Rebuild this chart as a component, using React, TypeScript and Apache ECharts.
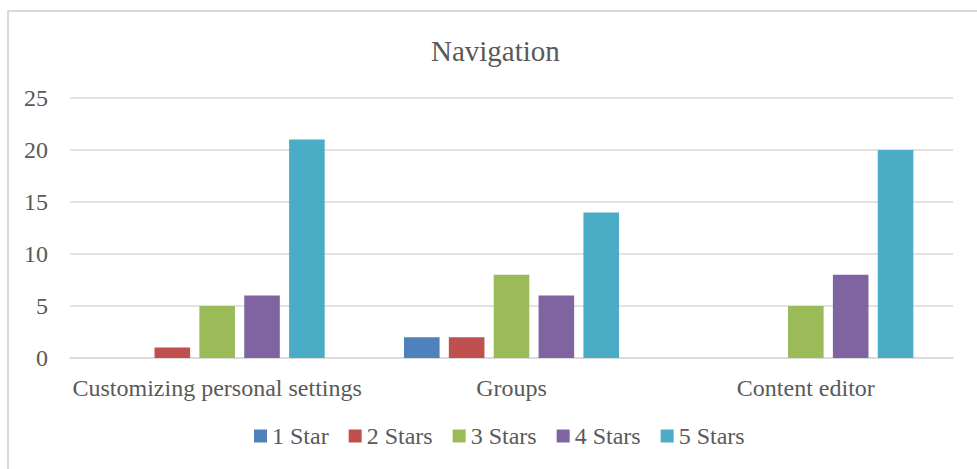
import React, { useEffect, useRef } from "react";
import * as echarts from "echarts";

const categories = ["Customizing personal settings", "Groups", "Content editor"];
const seriesNames = ["1 Star", "2 Stars", "3 Stars", "4 Stars", "5 Stars"];
const oneStar = [0, 2, 0];
const twoStars = [1, 2, 0];
const threeStars = [5, 8, 5];
const fourStars = [6, 6, 8];
const fiveStars = [21, 14, 20];
const colors = ["#4F81BD", "#C0504D", "#9BBB59", "#8064A2", "#4BACC6"];

const FONT = "Liberation Serif";
const TEXT = "#595959";

export default function App() {
  const ref = useRef<HTMLDivElement>(null);
  useEffect(() => {
    if (!ref.current) return;
    const chart = echarts.init(ref.current, undefined, { renderer: "svg" });
    const values = [oneStar, twoStars, threeStars, fourStars, fiveStars];
    chart.setOption({
      animation: false,
      textStyle: { fontFamily: FONT, color: TEXT },
      title: {
        text: "Navigation",
        left: 426,
        top: 31,
        textStyle: { fontFamily: FONT, color: TEXT, fontSize: 29, fontWeight: "normal" },
      },
      legend: {
        data: seriesNames,
        bottom: 16,
        left: 249,
        itemWidth: 13,
        itemHeight: 13,
        itemGap: 20,
        icon: "rect",
        textStyle: { fontFamily: FONT, color: TEXT, fontSize: 24 },
      },
      grid: { left: 70, right: 24, top: 98, bottom: 111, containLabel: false },
      xAxis: {
        type: "category",
        data: categories,
        axisLine: { lineStyle: { color: "#D9D9D9", width: 1.5 } },
        axisTick: { show: false },
        axisLabel: { fontFamily: FONT, color: TEXT, fontSize: 24, margin: 18, interval: 0 },
      },
      yAxis: {
        type: "value",
        min: 0,
        max: 25,
        interval: 5,
        axisLine: { show: false },
        axisTick: { show: false },
        splitLine: { lineStyle: { color: "#D9D9D9", width: 1.5 } },
        axisLabel: { fontFamily: FONT, color: TEXT, fontSize: 24, margin: 22 },
      },
      series: seriesNames.map((name, i) => ({
        name,
        type: "bar",
        data: values[i],
        barWidth: 35.6,
        barGap: "26%",
        itemStyle: { color: colors[i] },
      })),
      graphic: [
        {
          type: "rect",
          shape: { x: 8, y: 11, width: 1000, height: 500 },
          style: { fill: "none", stroke: "#D9D9D9", lineWidth: 2 },
          silent: true,
        },
      ],
    });
    return () => chart.dispose();
  }, []);
  return (
    <div
      ref={ref}
      style={{ position: "absolute", left: 0, top: 0, width: 977, height: 469, background: "#fff" }}
    />
  );
}
